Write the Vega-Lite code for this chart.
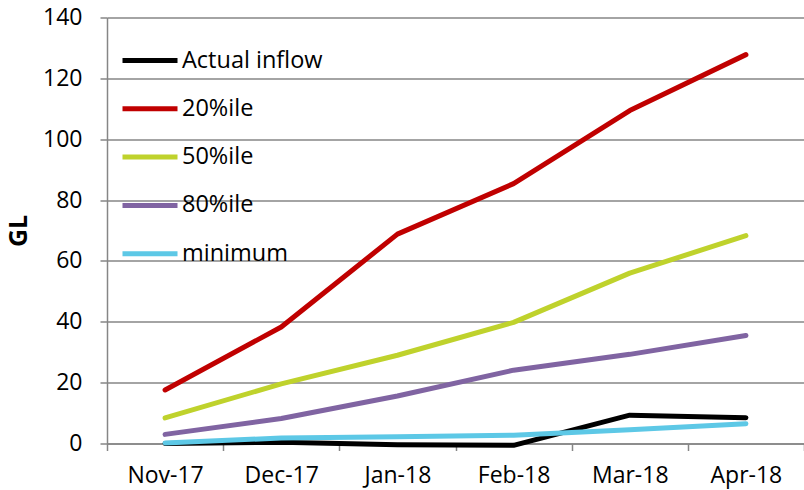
{
  "$schema": "https://vega.github.io/schema/vega-lite/v6.json",
  "width": 697,
  "height": 426,
  "autosize": {"type": "none"},
  "padding": {"left": 107, "top": 17.5, "right": 0, "bottom": 46.5},
  "background": "white",
  "config": {
    "view": {"stroke": null},
    "font": "Open Sans"
  },
  "data": {
    "values": [
      {"month": "Nov-17", "series": "Actual inflow", "value": 0},
      {"month": "Dec-17", "series": "Actual inflow", "value": 0.4},
      {"month": "Jan-18", "series": "Actual inflow", "value": -0.4},
      {"month": "Feb-18", "series": "Actual inflow", "value": -0.6},
      {"month": "Mar-18", "series": "Actual inflow", "value": 9.3},
      {"month": "Apr-18", "series": "Actual inflow", "value": 8.5},
      {"month": "Nov-17", "series": "20%ile", "value": 17.6},
      {"month": "Dec-17", "series": "20%ile", "value": 38.3},
      {"month": "Jan-18", "series": "20%ile", "value": 68.8},
      {"month": "Feb-18", "series": "20%ile", "value": 85.4},
      {"month": "Mar-18", "series": "20%ile", "value": 109.4},
      {"month": "Apr-18", "series": "20%ile", "value": 127.8},
      {"month": "Nov-17", "series": "50%ile", "value": 8.4},
      {"month": "Dec-17", "series": "50%ile", "value": 19.6},
      {"month": "Jan-18", "series": "50%ile", "value": 29.0},
      {"month": "Feb-18", "series": "50%ile", "value": 39.8},
      {"month": "Mar-18", "series": "50%ile", "value": 56.0},
      {"month": "Apr-18", "series": "50%ile", "value": 68.3},
      {"month": "Nov-17", "series": "80%ile", "value": 3.0},
      {"month": "Dec-17", "series": "80%ile", "value": 8.2},
      {"month": "Jan-18", "series": "80%ile", "value": 15.6},
      {"month": "Feb-18", "series": "80%ile", "value": 24.1},
      {"month": "Mar-18", "series": "80%ile", "value": 29.3},
      {"month": "Apr-18", "series": "80%ile", "value": 35.5},
      {"month": "Nov-17", "series": "minimum", "value": 0.2},
      {"month": "Dec-17", "series": "minimum", "value": 1.8},
      {"month": "Jan-18", "series": "minimum", "value": 2.2},
      {"month": "Feb-18", "series": "minimum", "value": 2.7},
      {"month": "Mar-18", "series": "minimum", "value": 4.5},
      {"month": "Apr-18", "series": "minimum", "value": 6.5}
    ]
  },
  "mark": {"type": "line", "strokeWidth": 5, "strokeCap": "round", "strokeJoin": "round"},
  "encoding": {
    "x": {
      "field": "month",
      "type": "nominal",
      "sort": ["Nov-17", "Dec-17", "Jan-18", "Feb-18", "Mar-18", "Apr-18"],
      "bandPosition": 0.5,
      "scale": {"type": "band", "paddingInner": 0, "paddingOuter": 0},
      "axis": {
        "title": null,
        "labelAngle": 0,
        "labelFontSize": 23,
        "labelColor": "#000000",
        "labelPadding": 14,
        "tickBand": "extent",
        "ticks": true,
        "tickSize": 7,
        "tickColor": "#868686",
        "tickWidth": 1.5,
        "domainColor": "#868686",
        "domainWidth": 1.5,
        "grid": false
      }
    },
    "y": {
      "field": "value",
      "type": "quantitative",
      "scale": {"domain": [0, 140], "nice": false, "zero": false},
      "axis": {
        "title": "GL",
        "titleFontSize": 25,
        "titleFontWeight": "bold",
        "titleColor": "#000000",
        "titleAngle": 270,
        "titleX": -89,
        "titleY": 213,
        "titleAlign": "center",
        "titleBaseline": "middle",
        "values": [0, 20, 40, 60, 80, 100, 120, 140],
        "labelFontSize": 23,
        "labelColor": "#000000",
        "labelPadding": 18,
        "tickSize": 7,
        "tickColor": "#868686",
        "tickWidth": 1.5,
        "domainColor": "#868686",
        "domainWidth": 1.5,
        "grid": true,
        "gridColor": "#868686",
        "gridWidth": 1.5
      }
    },
    "color": {
      "field": "series",
      "type": "nominal",
      "sort": ["Actual inflow", "20%ile", "50%ile", "80%ile", "minimum"],
      "scale": {
        "domain": ["Actual inflow", "20%ile", "50%ile", "80%ile", "minimum"],
        "range": ["#000000", "#C00000", "#BFD22C", "#8064A2", "#5DC8E6"]
      },
      "legend": {
        "title": null,
        "orient": "none",
        "legendX": 13,
        "legendY": 13,
        "padding": 0,
        "symbolType": "stroke",
        "symbolSize": 3025,
        "symbolStrokeWidth": 5,
        "labelFontSize": 23.5,
        "labelColor": "#000000",
        "labelOffset": 2,
        "rowPadding": 6.3,
        "labelLimit": 300
      }
    }
  }
}
